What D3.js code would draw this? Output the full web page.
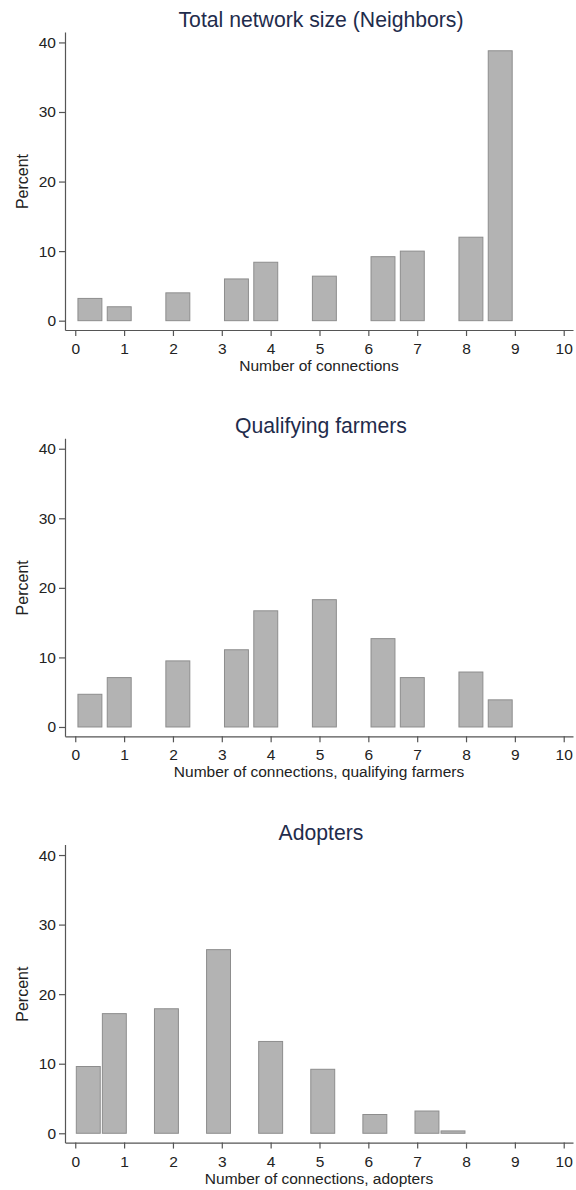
<!DOCTYPE html>
<html>
<head>
<meta charset="utf-8">
<script src="https://cdn.jsdelivr.net/npm/d3@7"></script>
<style>
  html, body { margin: 0; padding: 0; background: #ffffff; }
  svg { display: block; }
  text { font-family: "Liberation Sans", Arial, Helvetica, sans-serif; }
</style>
</head>
<body>
<div id="chart"></div>
<script>
// Histograms of network connections: 15 equal-width bins per panel, bar heights in percent.
const panelTitles = ["Total network size (Neighbors)", "Qualifying farmers", "Adopters"];
const xAxisTitles = ["Number of connections", "Number of connections, qualifying farmers", "Number of connections, adopters"];

// Range [min, max] of the variable that each histogram bins
const neighborsRange = [0, 9];
const qualifyingRange = [0, 9];
const adoptersRange = [0, 8];
const binCount = 15;

// Percent of observations in each bin (0 = empty bin)
const neighborsPct  = [3.2, 2.0, 0, 4.0, 0, 6.0, 8.4, 0, 6.4, 0, 9.2, 10.0, 0, 12.0, 38.8];
const qualifyingPct = [4.7, 7.1, 0, 9.5, 0, 11.1, 16.7, 0, 18.3, 0, 12.7, 7.1, 0, 7.9, 3.9];
const adoptersPct   = [9.6, 17.2, 0, 17.9, 0, 26.4, 0, 13.2, 0, 9.2, 0, 2.7, 0, 3.2, 0.34];

const xTicks = [0, 1, 2, 3, 4, 5, 6, 7, 8, 9, 10];
const yTicks = [0, 10, 20, 30, 40];

const panels = [
  { title: panelTitles[0], xTitle: xAxisTitles[0], range: neighborsRange, values: neighborsPct },
  { title: panelTitles[1], xTitle: xAxisTitles[1], range: qualifyingRange, values: qualifyingPct },
  { title: panelTitles[2], xTitle: xAxisTitles[2], range: adoptersRange, values: adoptersPct }
];

const W = 576, H = 1190;
const panelStep = 406.3;
const barWidthUnits = 0.49;

const svg = d3.select("#chart").append("svg")
  .attr("width", W).attr("height", H);

const axisColor = "#555555";
const labelColor = "#222222";
const titleColor = "#1f2c4c";

panels.forEach((p, i) => {
  const g = svg.append("g").attr("transform", `translate(0,${i * panelStep})`);

  // Plot region extends a little past the data range, as the axis lines show
  const x = d3.scaleLinear().domain([-0.21, 10.19]).range([65, 573]);
  const y = d3.scaleLinear().domain([-1.34, 41.5]).range([330, 32]);

  const binW = (p.range[1] - p.range[0]) / binCount;
  const bins = p.values.map((v, k) => ({
    center: p.range[0] + (k + 0.5) * binW,
    value: v
  })).filter(d => d.value > 0);

  g.selectAll("rect.bar").data(bins).join("rect")
    .attr("class", "bar")
    .attr("x", d => x(d.center - barWidthUnits / 2))
    .attr("width", d => x(d.center + barWidthUnits / 2) - x(d.center - barWidthUnits / 2))
    .attr("y", d => y(d.value))
    .attr("height", d => y(0) - y(d.value))
    .attr("fill", "#b3b3b3")
    .attr("stroke", "#8d8d8d")
    .attr("stroke-width", 1);

  // Y axis
  const yAxis = g.append("g")
    .attr("transform", "translate(65,0)")
    .call(d3.axisLeft(y).tickValues(yTicks).tickSizeInner(6).tickSizeOuter(0).tickPadding(3));
  // X axis
  const xAxis = g.append("g")
    .attr("transform", "translate(0,330)")
    .call(d3.axisBottom(x).tickValues(xTicks).tickSizeInner(6).tickSizeOuter(0).tickPadding(7));

  [yAxis, xAxis].forEach(ax => {
    ax.select(".domain").attr("stroke", axisColor).attr("stroke-width", 1.2);
    ax.selectAll(".tick line").attr("stroke", axisColor).attr("stroke-width", 1.2);
    ax.selectAll(".tick text")
      .attr("fill", labelColor)
      .style("font-size", "15.5px")
      .style("font-family", "'Liberation Sans', Arial, Helvetica, sans-serif");
  });

  // Titles
  g.append("text")
    .attr("x", 321).attr("y", 27)
    .attr("text-anchor", "middle")
    .attr("fill", titleColor)
    .style("font-size", "21.2px")
    .text(p.title);

  g.append("text")
    .attr("x", 319).attr("y", 371)
    .attr("text-anchor", "middle")
    .attr("fill", labelColor)
    .style("font-size", "15.5px")
    .text(p.xTitle);

  g.append("text")
    .attr("transform", `translate(28,${y(20)}) rotate(-90)`)
    .attr("text-anchor", "middle")
    .attr("fill", labelColor)
    .style("font-size", "16px")
    .text("Percent");
});
</script>
</body>
</html>
